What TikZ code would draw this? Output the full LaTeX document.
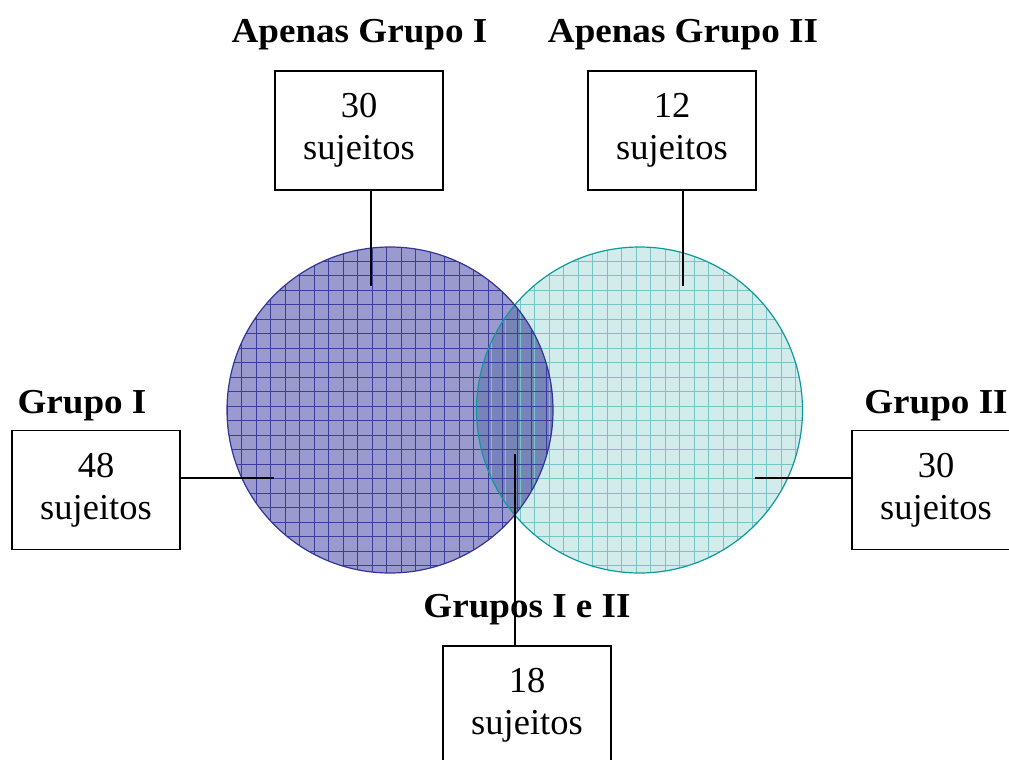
\documentclass[tikz,border=0pt]{standalone}
\usepackage{fontspec}
\usepackage{graphicx}
\setmainfont{Liberation Serif}
\definecolor{lfill}{HTML}{9A9ACE}
\definecolor{lgrid}{HTML}{3C3C9C}
\definecolor{lborder}{HTML}{333399}
\definecolor{rfill}{HTML}{D2ECEC}
\definecolor{rgrid}{HTML}{74C6C6}
\definecolor{rborder}{HTML}{0E9A9A}
\definecolor{ofill}{HTML}{7684BA}
\newcommand{\cnttext}[2]{\raisebox{2pt}{\begin{tabular}{@{}c@{}}#1\\#2\end{tabular}}}
\newcommand{\grptext}[1]{\scalebox{1.06}[1]{#1}}
\begin{document}
\begin{tikzpicture}[x=1pt,y=-1pt,
  countbox/.style={draw=black, line width=1.9pt, fill=white, minimum width=168pt, minimum height=119pt, inner sep=0pt, align=center, font=\fontsize{36.5}{42}\selectfont},
  grplabel/.style={anchor=base, inner sep=0pt, font=\fontsize{35}{40}\selectfont\bfseries},
  conn/.style={draw=black, line width=2.8pt}]
\useasboundingbox (0,0) rectangle (1009,760);
\clip (0,0) rectangle (1009,760);
% circles
\coordinate (cl) at (390,410);
\coordinate (cr) at (639.5,410);
\fill[rfill] (cr) circle[radius=163];
\fill[lfill] (cl) circle[radius=163];
\begin{scope}
  \clip (cl) circle[radius=163];
  \fill[ofill] (cr) circle[radius=163];
\end{scope}
\begin{scope}
  \clip (cr) circle[radius=163];
  \foreach \k in {-12,...,12} {
    \draw[rgrid, line width=0.8pt] (636+14.5*\k,240) -- (636+14.5*\k,580);
    \draw[rgrid, line width=0.8pt] (470,391.7+14.5*\k) -- (810,391.7+14.5*\k);
  }
\end{scope}
\begin{scope}
  \clip (cl) circle[radius=163];
  \foreach \k in {-12,...,12} {
    \draw[lgrid, line width=0.8pt] (372.3+14.5*\k,240) -- (372.3+14.5*\k,580);
    \draw[lgrid, line width=0.8pt] (220,391.7+14.5*\k) -- (560,391.7+14.5*\k);
  }
\end{scope}
\draw[rborder, line width=1.2pt] (cr) circle[radius=163];
\draw[lborder, line width=1.2pt] (cl) circle[radius=163];
% labels
\node[grplabel] (l1) at (359.5,43) {\grptext{Apenas Grupo I}};
\node[grplabel] (l2) at (683,43) {\grptext{Apenas Grupo II}};
\node[grplabel] (l3) at (82,413) {\grptext{Grupo I}};
\node[grplabel] (l4) at (936,413) {\grptext{Grupo II}};
\node[grplabel] (l5) at (527,617) {\grptext{Grupos I e II}};
% boxes
\node[countbox] (b1) at (359,130.5) {\cnttext{30}{sujeitos}};
\node[countbox] (b2) at (672,130.5) {\cnttext{12}{sujeitos}};
\node[countbox] (b3) at (96,490) {\cnttext{48}{sujeitos}};
\node[countbox] (b4) at (936,490) {\cnttext{30}{sujeitos}};
\node[countbox] (b5) at (527,705.5) {\cnttext{18}{sujeitos}};
% connectors
\coordinate (p1) at (371,286);
\coordinate (p2) at (683,286);
\coordinate (p3) at (274,478);
\coordinate (p4) at (755,478);
\coordinate (p5) at (515,454);
\draw[conn] (b1.south -| p1) -- (p1);
\draw[conn] (b2.south -| p2) -- (p2);
\draw[conn] (b3.east |- p3) -- (p3);
\draw[conn] (b4.west |- p4) -- (p4);
\draw[conn] (b5.north -| p5) -- (p5);
\end{tikzpicture}
\end{document}
